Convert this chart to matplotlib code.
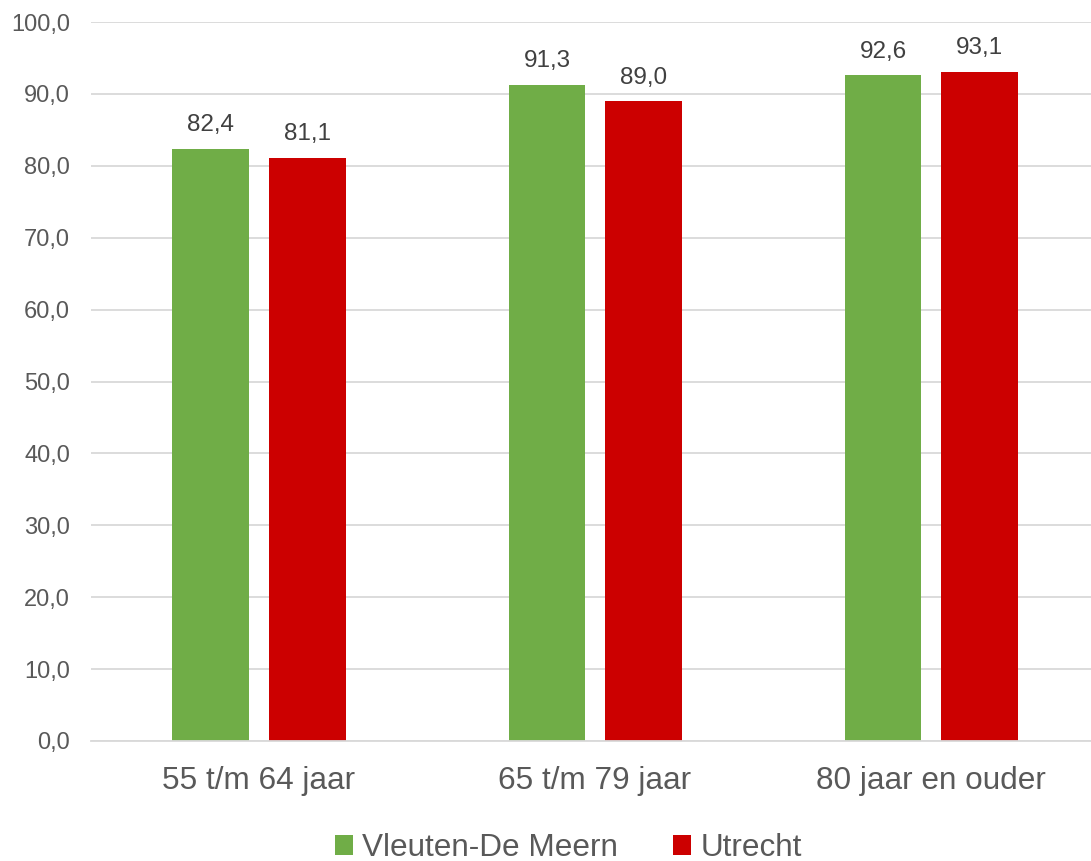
import numpy as np
import matplotlib
matplotlib.use("Agg")
import matplotlib.pyplot as plt

categories = ["55 t/m 64 jaar", "65 t/m 79 jaar", "80 jaar en ouder"]
vleuten = [82.4, 91.3, 92.6]
utrecht = [81.1, 89.0, 93.1]
series_names = ["Vleuten-De Meern", "Utrecht"]
yticks = [0, 10, 20, 30, 40, 50, 60, 70, 80, 90, 100]

plt.rcParams['font.family'] = ['Liberation Sans', 'DejaVu Sans']

fig = plt.figure(figsize=(10.91, 8.61), dpi=100)
ax = fig.add_axes([0.0834, 0.1394, 0.924, 0.835])

x = np.arange(len(categories))
w = 0.229
off = 0.143
b1 = ax.bar(x - off, vleuten, w, color='#70AD47', label=series_names[0], zorder=3)
b2 = ax.bar(x + off, utrecht, w, color='#CC0000', label=series_names[1], zorder=3)

for bars, vals in [(b1, vleuten), (b2, utrecht)]:
    for b, v in zip(bars, vals):
        ax.annotate(f"{v:.1f}".replace('.', ','), (b.get_x() + b.get_width() / 2, v),
                    xytext=(0, 9), textcoords='offset points', ha='center', va='bottom',
                    fontsize=17.5, color='#404040')

ax.set_xlim(-0.5, 2.5)
ax.set_ylim(0, 100)
ax.set_yticks(yticks)
ax.set_yticklabels([f"{t:.1f}".replace('.', ',') for t in yticks], fontsize=17, color='#595959')
ax.set_xticks(x)
ax.set_xticklabels(categories, fontsize=22.7, color='#595959')
ax.tick_params(axis='both', length=0)
ax.tick_params(axis='y', pad=15)
ax.tick_params(axis='x', pad=18)
ax.grid(axis='y', color='#D9D9D9', linewidth=1.3, zorder=0)
for s in ['top', 'right', 'left']:
    ax.spines[s].set_visible(False)
ax.spines['bottom'].set_color('#D9D9D9')
ax.spines['bottom'].set_linewidth(1.3)
ax.spines['bottom'].set_zorder(4)

fig.legend(handles=[b1, b2], loc='center', bbox_to_anchor=(0.521, 0.015), ncol=2,
           frameon=False, fontsize=22.7, labelcolor='#595959', handlelength=0.57,
           handleheight=0.57, handletextpad=0.3, columnspacing=1.75)

fig.savefig("out.png", dpi=100)
